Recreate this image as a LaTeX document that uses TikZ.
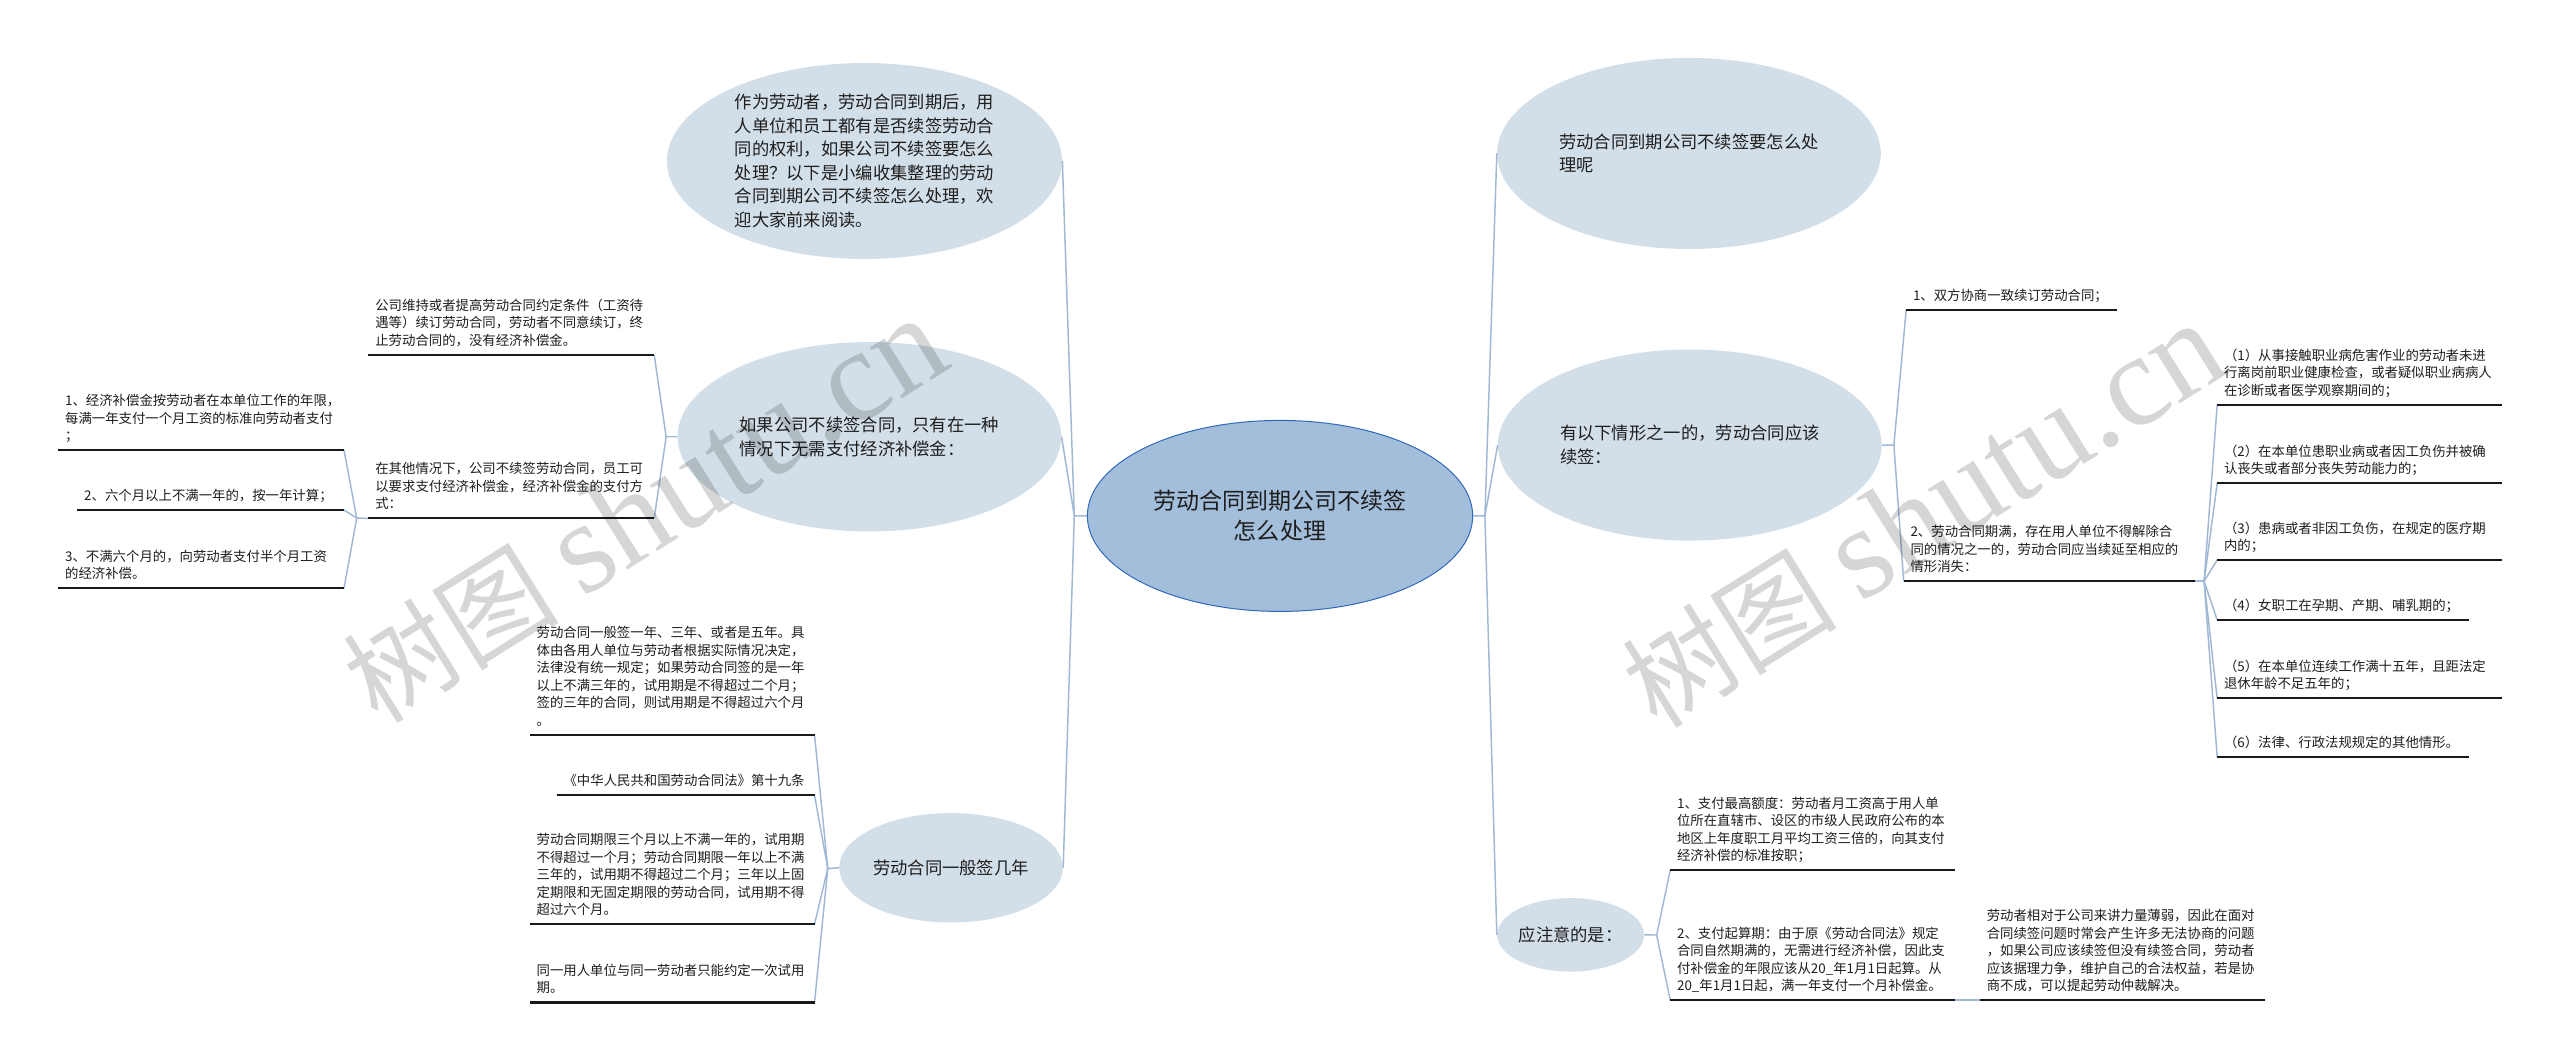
\documentclass[tikz,border=0pt]{standalone}
\usepackage{fontspec}
\setmainfont{Noto Sans CJK SC}
\newfontfamily\wmlatin{Liberation Serif}
\usetikzlibrary{shapes.geometric}
\definecolor{ellfill}{HTML}{D3DFE8}
\definecolor{rootfill}{HTML}{A3BEDB}
\definecolor{rootdraw}{HTML}{2F67BA}
\definecolor{connc}{HTML}{A0B8D3}
\definecolor{txt}{HTML}{1E1E1E}
\tikzset{
  topic/.style={ellipse, fill=ellfill, inner sep=0pt, align=left, text=txt, font=\fontsize{10.6}{14.4}\selectfont},
  rootnode/.style={ellipse, fill=rootfill, draw=rootdraw, line width=0.6pt, inner sep=0pt, align=center, text=txt, font=\fontsize{14.1}{18.6}\selectfont},
  leaf/.style={anchor=south west, inner xsep=4pt, inner ysep=2.4pt, align=left, text=txt, font=\fontsize{8.2}{10.7}\selectfont},
  uline/.style={line width=1.3pt, draw=black!90},
  conn/.style={draw=connc, line width=0.9pt},
  wmark/.style={rotate=32, text=black, opacity=0.16, inner sep=0pt}
}
\begin{document}
\begin{tikzpicture}[x=1pt,y=-1pt]
\fill[white] (0,0) rectangle (1568,650);
\useasboundingbox (0,0) rectangle (1568,650);

% ellipses
\node[rootnode, minimum width=236pt, minimum height=117pt] (root) at (784,316) {劳动合同到期公司不续签\\怎么处理};
\node[topic, minimum width=242pt, minimum height=120pt] (l1) at (529.5,98.6) {作为劳动者，劳动合同到期后，用\\人单位和员工都有是否续签劳动合\\同的权利，如果公司不续签要怎么\\处理？以下是小编收集整理的劳动\\合同到期公司不续签怎么处理，欢\\迎大家前来阅读。};
\node[topic, minimum width=235pt, minimum height=116pt] (l2) at (532.5,267.5) {如果公司不续签合同，只有在一种\\情况下无需支付经济补偿金：};
\node[topic, minimum width=137pt, minimum height=67pt] (l3) at (582.5,531.5) {劳动合同一般签几年};
\node[topic, minimum width=235pt, minimum height=117pt] (r1) at (1034.5,94) {劳动合同到期公司不续签要怎么处\\理呢};
\node[topic, minimum width=235pt, minimum height=117pt] (r2) at (1035,272.6) {有以下情形之一的，劳动合同应该\\续签：};
\node[topic, minimum width=90pt, minimum height=45pt] (r3) at (962,572.6) {应注意的是：};

% leaves left
\node[leaf, text width=166.6pt] (gc1) at (35.7,275.6) {1、经济补偿金按劳动者在本单位工作的年限，\\每满一年支付一个月工资的标准向劳动者支付\\；\strut};
\node[leaf, text width=154.9pt] (gc2) at (47.4,312.4) {2、六个月以上不满一年的，按一年计算；\strut};
\node[leaf, text width=166.6pt] (gc3) at (35.7,360.3) {3、不满六个月的，向劳动者支付半个月工资\\的经济补偿。\strut};
\node[leaf, text width=166.6pt] (l2a) at (225.7,217.4) {公司维持或者提高劳动合同约定条件（工资待\\遇等）续订劳动合同，劳动者不同意续订，终\\止劳动合同的，没有经济补偿金。\strut};
\node[leaf, text width=166.6pt] (l2b) at (225.7,317.5) {在其他情况下，公司不续签劳动合同，员工可\\以要求支付经济补偿金，经济补偿金的支付方\\式：\strut};
\node[leaf, text width=166pt] (l3a) at (324.5,450) {劳动合同一般签一年、三年、或者是五年。具\\体由各用人单位与劳动者根据实际情况决定，\\法律没有统一规定；如果劳动合同签的是一年\\以上不满三年的，试用期是不得超过二个月；\\签的三年的合同，则试用期是不得超过六个月\\。\strut};
\node[leaf, text width=149.5pt] (l3b) at (341,487) {《中华人民共和国劳动合同法》第十九条\strut};
\node[leaf, text width=166pt] (l3c) at (324.5,566) {劳动合同期限三个月以上不满一年的，试用期\\不得超过一个月；劳动合同期限一年以上不满\\三年的，试用期不得超过二个月；三年以上固\\定期限和无固定期限的劳动合同，试用期不得\\超过六个月。\strut};
\node[leaf, text width=166pt] (l3d) at (324.5,614) {同一用人单位与同一劳动者只能约定一次试用\\期。\strut};

% leaves right
\node[leaf, text width=120.5pt] (r2a) at (1167.5,190) {1、双方协商一致续订劳动合同；\strut};
\node[leaf, text width=170pt] (r2b) at (1166,356) {2、劳动合同期满，存在用人单位不得解除合\\同的情况之一的，劳动合同应当续延至相应的\\情形消失：\strut};
\node[leaf, text width=166pt] (c1) at (1358,248) {（1）从事接触职业病危害作业的劳动者未进\\行离岗前职业健康检查，或者疑似职业病病人\\在诊断或者医学观察期间的；\strut};
\node[leaf, text width=166pt] (c2) at (1358,296) {（2）在本单位患职业病或者因工负伤并被确\\认丧失或者部分丧失劳动能力的；\strut};
\node[leaf, text width=166pt] (c3) at (1358,343) {（3）患病或者非因工负伤，在规定的医疗期\\内的；\strut};
\node[leaf, text width=146pt] (c4) at (1358,379.7) {（4）女职工在孕期、产期、哺乳期的；\strut};
\node[leaf, text width=166pt] (c5) at (1358,427.7) {（5）在本单位连续工作满十五年，且距法定\\退休年龄不足五年的；\strut};
\node[leaf, text width=146pt] (c6) at (1358,463.6) {（6）法律、行政法规规定的其他情形。\strut};
\node[leaf, text width=166pt] (r3a) at (1023,533) {1、支付最高额度：劳动者月工资高于用人单\\位所在直辖市、设区的市级人民政府公布的本\\地区上年度职工月平均工资三倍的，向其支付\\经济补偿的标准按职；\strut};
\node[leaf, text width=166pt] (r3b) at (1023,612.5) {2、支付起算期：由于原《劳动合同法》规定\\合同自然期满的，无需进行经济补偿，因此支\\付补偿金的年限应该从20\_年1月1日起算。从\\20\_年1月1日起，满一年支付一个月补偿金。\strut};
\node[leaf, text width=166.3pt] (r3c) at (1212.7,612.5) {劳动者相对于公司来讲力量薄弱，因此在面对\\合同续签问题时常会产生许多无法协商的问题\\，如果公司应该续签但没有续签合同，劳动者\\应该据理力争，维护自己的合法权益，若是协\\商不成，可以提起劳动仲裁解决。\strut};

% junctions
\coordinate (jl) at (658,316);
\coordinate (jr) at (909.5,316);
\coordinate (jl2) at (408,267.5);
\coordinate (jl2b) at (218.5,317.3);
\coordinate (jl3) at (507,532);
\coordinate (jr2) at (1160,272.6);
\coordinate (jr2b) at (1350,356);
\coordinate (jr3) at (1014.7,572.7);

% connectors
\draw[conn] (root.west) -- (jl) -- (l1.east);
\draw[conn] (jl) -- (l2.east);
\draw[conn] (jl) -- (l3.east);
\draw[conn] (root.east) -- (jr) -- (r1.west);
\draw[conn] (jr) -- (r2.west);
\draw[conn] (jr) -- (r3.west);
\draw[conn] (l2.west) -- (jl2) -- (l2a.south east);
\draw[conn] (jl2) -- (l2b.south east);
\draw[conn] (l2b.south west) -- (jl2b) -- (gc1.south east);
\draw[conn] (jl2b) -- (gc2.south east);
\draw[conn] (jl2b) -- (gc3.south east);
\draw[conn] (l3.west) -- (jl3) -- (l3a.south east);
\draw[conn] (jl3) -- (l3b.south east);
\draw[conn] (jl3) -- (l3c.south east);
\draw[conn] (jl3) -- (l3d.south east);
\draw[conn] (r2.east) -- (jr2) -- (r2a.south west);
\draw[conn] (jr2) -- (r2b.south west);
\foreach \c in {c1,c2,c3,c4,c5,c6} \draw[conn] (r2b.south east) -- (jr2b) -- (\c.south west);
\draw[conn] (r3.east) -- (jr3) -- (r3a.south west);
\draw[conn] (jr3) -- (r3b.south west);
\draw[conn] (r3b.south east) -- (r3c.south west);

% underlines
\foreach \n in {gc1,gc2,gc3,l2a,l2b,l3a,l3b,l3c,l3d,r2a,r2b,c1,c2,c3,c4,c5,c6,r3a,r3b,r3c}
  \draw[uline] (\n.south west) -- (\n.south east);

% watermark
\node[wmark] (wm1) at (395,313) {\fontsize{66}{66}\selectfont 树图 {\wmlatin\fontsize{80}{80}\selectfont shutu.cn}};
\node[wmark] (wm2) at (1178,316) {\fontsize{66}{66}\selectfont 树图 {\wmlatin\fontsize{80}{80}\selectfont shutu.cn}};
\end{tikzpicture}
\end{document}
